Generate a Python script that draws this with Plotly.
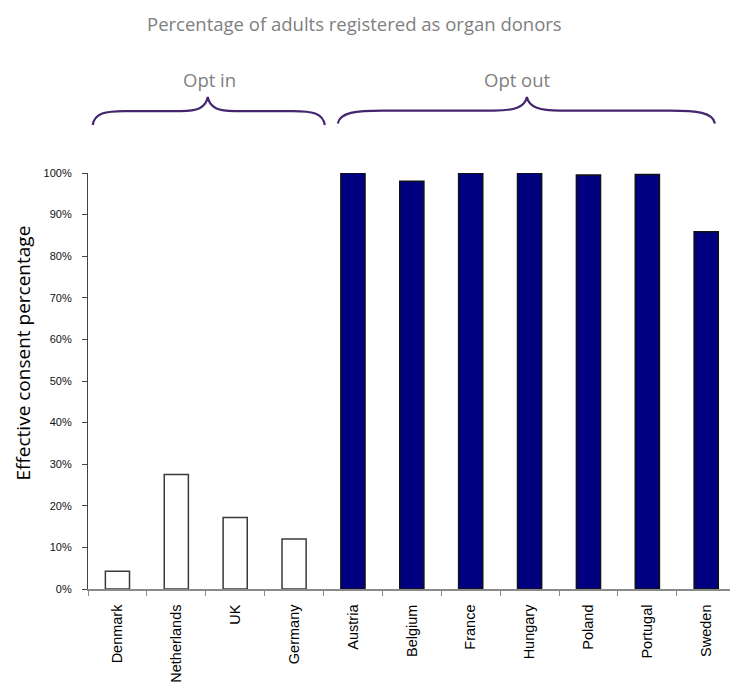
import plotly.graph_objects as go

# ---- data ----
opt_in_countries = ["Denmark", "Netherlands", "UK", "Germany"]
opt_in_values = [4.25, 27.5, 17.17, 12.0]
opt_out_countries = ["Austria", "Belgium", "France", "Hungary", "Poland", "Portugal", "Sweden"]
opt_out_values = [99.98, 98.0, 99.91, 99.97, 99.5, 99.64, 85.9]
y_ticks = [0, 10, 20, 30, 40, 50, 60, 70, 80, 90, 100]

title_text = "Percentage of adults registered as organ donors"
y_title = "Effective consent percentage"
group_labels = ["Opt in", "Opt out"]

# ---- layout geometry (pixels) ----
W, H = 730, 686
L, R, T, B = 88.3, 730.0, 173.0, 589.3
cat_w = 58.85
x_hi = -0.5 + (R - L) / cat_w


def px(x):
    return (x - L) / (R - L)


def py(y):
    return (B - y) / (B - T)


def brace(x0, x1, xm, y_end, y_flat, y_peak, r_end, r_mid):
    pts = [
        ("M", [(x0, y_end)]),
        ("C", [(x0 + 2, y_flat + 2), (x0 + r_end * 0.4, y_flat), (x0 + r_end, y_flat)]),
        ("L", [(xm - r_mid, y_flat)]),
        ("C", [(xm - r_mid * 0.4, y_flat), (xm - 2, y_flat - 3), (xm, y_peak)]),
        ("C", [(xm + 2, y_flat - 3), (xm + r_mid * 0.4, y_flat), (xm + r_mid, y_flat)]),
        ("L", [(x1 - r_end, y_flat)]),
        ("C", [(x1 - r_end * 0.4, y_flat), (x1 - 2, y_flat + 2), (x1, y_end)]),
    ]
    s = ""
    for cmd, ps in pts:
        s += cmd + " " + " ".join(f"{px(a):.5f},{py(b):.5f}" for a, b in ps) + " "
    return s.strip()


fig = go.Figure()
fig.add_trace(go.Bar(
    x=opt_in_countries, y=opt_in_values, width=0.41,
    marker=dict(color="white", line=dict(color="#3a3a3a", width=1.5)),
    showlegend=False,
))
fig.add_trace(go.Bar(
    x=opt_out_countries, y=opt_out_values, width=0.41,
    marker=dict(color="#000080", line=dict(color="#111111", width=1.5)),
    showlegend=False,
))

brace_color = "#45266e"
fig.add_shape(type="path", xref="paper", yref="paper",
              path=brace(93, 325, 208, 125, 111, 97, 32, 27),
              line=dict(color=brace_color, width=2.2))
fig.add_shape(type="path", xref="paper", yref="paper",
              path=brace(338, 715, 527, 123.5, 110.5, 97, 45, 33),
              line=dict(color=brace_color, width=2.2))

gray = "#7f7f7f"


def label(text, x, y, size, color, angle=0):
    fig.add_annotation(text=text, xref="paper", yref="paper",
                       x=px(x), y=py(y), xanchor="center", yanchor="middle",
                       showarrow=False, textangle=angle,
                       font=dict(family="Open Sans", size=size, color=color))


label(title_text, 355, 23, 18.5, gray)
label(group_labels[0], 210, 79, 18.5, gray)
label(group_labels[1], 518, 79, 18.5, gray)
label(y_title, 23, 353, 19, "#000000", angle=-90)

fig.update_layout(
    width=W, height=H,
    margin=dict(l=L, r=W - R, t=T, b=H - B, pad=0),
    paper_bgcolor="white", plot_bgcolor="white",
    barmode="overlay",
    xaxis=dict(
        type="category",
        categoryorder="array",
        categoryarray=opt_in_countries + opt_out_countries,
        range=[-0.5, x_hi],
        showline=True, linecolor="#8a8a8a", linewidth=1.5,
        ticks="outside", tickson="boundaries", ticklen=5, tickcolor="#8a8a8a",
        tickangle=-90, ticklabelstandoff=8,
        tickfont=dict(family="Liberation Sans", size=14.5, color="#000000"),
        showgrid=False, zeroline=False, fixedrange=True,
    ),
    yaxis=dict(
        range=[0, 100],
        tickvals=y_ticks, ticktext=[f"{v}%" for v in y_ticks],
        showline=True, linecolor="#444444", linewidth=1.2,
        ticks="outside", ticklen=5, tickcolor="#444444",
        ticklabelstandoff=8,
        tickfont=dict(family="Liberation Sans", size=11, color="#111111"),
        showgrid=False, zeroline=False, fixedrange=True,
    ),
)

fig.write_html("out.html")
